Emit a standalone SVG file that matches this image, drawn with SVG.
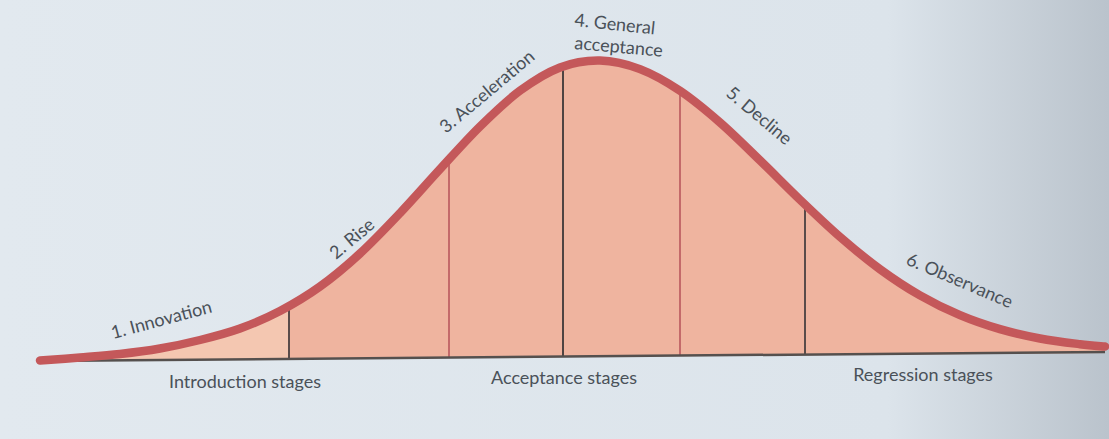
<svg xmlns="http://www.w3.org/2000/svg" width="1109" height="439" viewBox="0 0 1109 439">
  <defs>
    <linearGradient id="bg" x1="0" y1="0" x2="1" y2="0">
      <stop offset="0" stop-color="#e2e9ef"/>
      <stop offset="0.8" stop-color="#dce4eb"/>
      <stop offset="1" stop-color="#bac3cc"/>
    </linearGradient>
    <path id="curveShape" d="M40,360.5 C46.67,360 66.67,358.58 80,357.5 C93.33,356.42 106.67,355.5 120,354 C133.33,352.5 146.67,350.83 160,348.5 C173.33,346.17 186.67,343.33 200,340 C213.33,336.67 226.67,333.33 240,328.5 C253.33,323.67 266.67,318 280,311 C293.33,304 306.67,296.08 320,286.5 C333.33,276.92 346.67,265.73 360,253.5 C373.33,241.27 386.67,227.15 400,213.1 C413.33,199.05 426.67,183.63 440,169.2 C453.33,154.77 466.67,139.58 480,126.5 C493.33,113.42 506.67,100.55 520,90.7 C533.33,80.85 546.67,72.43 560,67.4 C573.33,62.37 586.67,60.22 600,60.5 C613.33,60.78 626.67,64.05 640,69.1 C653.33,74.15 666.67,81.9 680,90.8 C693.33,99.7 706.67,110.9 720,122.5 C733.33,134.1 746.67,147.53 760,160.4 C773.33,173.27 786.67,186.95 800,199.7 C813.33,212.45 826.67,225.32 840,236.9 C853.33,248.48 866.67,259.45 880,269.2 C893.33,278.95 906.67,287.73 920,295.4 C933.33,303.07 946.67,309.57 960,315.2 C973.33,320.83 986.67,325.32 1000,329.2 C1013.33,333.08 1026.67,336 1040,338.5 C1053.33,341 1069.17,342.87 1080,344.2 C1090.83,345.53 1100.83,346.12 1105,346.5"/>
    <clipPath id="under">
      <path d="M40,360.5 C46.67,360 66.67,358.58 80,357.5 C93.33,356.42 106.67,355.5 120,354 C133.33,352.5 146.67,350.83 160,348.5 C173.33,346.17 186.67,343.33 200,340 C213.33,336.67 226.67,333.33 240,328.5 C253.33,323.67 266.67,318 280,311 C293.33,304 306.67,296.08 320,286.5 C333.33,276.92 346.67,265.73 360,253.5 C373.33,241.27 386.67,227.15 400,213.1 C413.33,199.05 426.67,183.63 440,169.2 C453.33,154.77 466.67,139.58 480,126.5 C493.33,113.42 506.67,100.55 520,90.7 C533.33,80.85 546.67,72.43 560,67.4 C573.33,62.37 586.67,60.22 600,60.5 C613.33,60.78 626.67,64.05 640,69.1 C653.33,74.15 666.67,81.9 680,90.8 C693.33,99.7 706.67,110.9 720,122.5 C733.33,134.1 746.67,147.53 760,160.4 C773.33,173.27 786.67,186.95 800,199.7 C813.33,212.45 826.67,225.32 840,236.9 C853.33,248.48 866.67,259.45 880,269.2 C893.33,278.95 906.67,287.73 920,295.4 C933.33,303.07 946.67,309.57 960,315.2 C973.33,320.83 986.67,325.32 1000,329.2 C1013.33,333.08 1026.67,336 1040,338.5 C1053.33,341 1069.17,342.87 1080,344.2 C1090.83,345.53 1100.83,346.12 1105,346.5 L1105,353 L40,361 Z"/>
    </clipPath>
    <style>
      .lbl { font-family: "Lato", "Open Sans", "Liberation Sans", sans-serif; font-size: 18px; fill: #4a5159; }
      .stage { text-anchor: middle; }
      .div { stroke-width: 2; fill: none; }
    </style>
  </defs>
  <rect x="0" y="0" width="1109" height="439" fill="url(#bg)"/>

  <g id="area">
    <g clip-path="url(#under)">
      <rect x="30" y="40" width="259" height="330" fill="#f4c7b1"/>
      <rect x="289" y="40" width="820" height="330" fill="#efb49f"/>
    </g>
  </g>

  <g id="connectors">
    <line id="div1" class="div" x1="289" y1="306" x2="289" y2="359" stroke="#5a4c4a"/>
    <line id="div2" class="div" x1="449" y1="160" x2="449" y2="358" stroke="#c46a6a"/>
    <line id="div3" class="div" x1="563" y1="66" x2="563" y2="357" stroke="#4f4442"/>
    <line id="div4" class="div" x1="680" y1="91" x2="680" y2="356" stroke="#c46a6a"/>
    <line id="div5" class="div" x1="805" y1="204" x2="805" y2="355" stroke="#5a4c4a"/>
    <line id="baseline" x1="37" y1="361" x2="1105" y2="352" stroke="#55504e" stroke-width="2.5"/>
    <use id="curve" href="#curveShape" fill="none" stroke="#c4585a" stroke-width="8.5" stroke-linecap="round" stroke-linejoin="round"/>
  </g>

  <g id="stage1"><text class="lbl" transform="translate(113,339) rotate(-15)">1. Innovation</text></g>
  <g id="stage2"><text class="lbl" transform="translate(336,260) rotate(-40)">2. Rise</text></g>
  <g id="stage3"><text class="lbl" transform="translate(446,134) rotate(-40)">3. Acceleration</text></g>
  <g id="stage4">
    <text class="lbl" transform="translate(574,26) rotate(6)">4. General</text>
    <text class="lbl" transform="translate(574,49) rotate(5)">acceptance</text>
  </g>
  <g id="stage5"><text class="lbl" transform="translate(725,95) rotate(40)">5. Decline</text></g>
  <g id="stage6"><text class="lbl" transform="translate(905,264) rotate(23)">6. Observance</text></g>

  <g id="introduction"><text class="lbl stage" x="245" y="388">Introduction stages</text></g>
  <g id="acceptance"><text class="lbl stage" x="564" y="384">Acceptance stages</text></g>
  <g id="regression"><text class="lbl stage" x="923" y="381">Regression stages</text></g>
</svg>
